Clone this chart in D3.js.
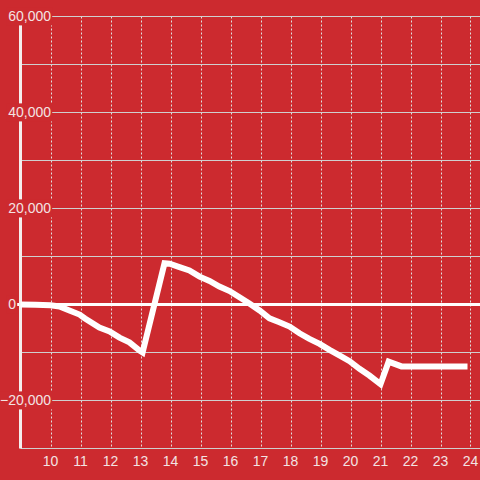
<!DOCTYPE html>
<meta charset="utf-8">
<style>
body { margin: 0; background: #cc2a2f; }
svg { display: block; }
.grid-h line { stroke: #cfcfcf; stroke-width: 1px; }
.grid-v line { stroke: #e0e0e0; stroke-width: 1px; stroke-dasharray: 2,2; }
.tick-label { font: 14px "Liberation Sans", Arial, sans-serif; fill: #f3e3e3; }
.series { fill: none; stroke: #fff; stroke-width: 6px; stroke-linejoin: miter; }
</style>
<svg width="480" height="480"></svg>
<script src="https://cdn.jsdelivr.net/npm/d3@7/dist/d3.min.js"></script>
<script>
// values
var hours = [9, 9.5, 10, 10.3, 10.63, 10.97, 11.15, 11.63, 11.97, 12.3, 12.63, 12.97, 13.07,
             13.8, 13.97, 14.3, 14.63, 14.97, 15.3, 15.63, 15.97, 16.3, 16.63, 16.97,
             17.3, 17.63, 17.97, 18.3, 18.63, 18.97, 19.3, 19.63, 19.97, 20.3, 20.63, 21.0,
             21.27, 21.7, 22, 23, 23.9];
var balance = [0, -50, -150, -400, -1250, -2100, -2900, -4800, -5600, -6900, -7900, -9600, -10000,
               8600, 8500, 7800, 7100, 5800, 4900, 3750, 2800, 1500, 200, -1250,
               -2900, -3700, -4600, -6000, -7150, -8200, -9450, -10600, -11800, -13400, -14800, -16600,
               -11900, -12900, -12900, -12900, -12900];
var xTicks = [10, 11, 12, 13, 14, 15, 16, 17, 18, 19, 20, 21, 22, 23, 24];
var yGrid = [60000, 50000, 40000, 30000, 20000, 10000, -10000, -20000, -30000];
var yLabels = [60000, 40000, 20000, 0, -20000];

var svg = d3.select("svg");

svg.append("rect")
    .attr("width", 480).attr("height", 480)
    .attr("fill", "#cc2a2f");

var x = d3.scaleLinear().domain([9, 24.3]).range([20.5, 479.5]),
    y = d3.scaleLinear().domain([-30000, 60000]).range([448.5, 16.5]);

var fmt = d3.format(",");

// dashed vertical grid
svg.append("g")
    .attr("class", "grid-v")
  .selectAll("line")
  .data(xTicks)
  .enter().append("line")
    .attr("x1", function(d) { return Math.round(x(d)) + 0.5; })
    .attr("x2", function(d) { return Math.round(x(d)) + 0.5; })
    .attr("y1", y(60000))
    .attr("y2", y(-30000));

// horizontal grid
svg.append("g")
    .attr("class", "grid-h")
  .selectAll("line")
  .data(yGrid)
  .enter().append("line")
    .attr("x1", x(9))
    .attr("x2", 480)
    .attr("y1", function(d) { return y(d); })
    .attr("y2", function(d) { return y(d); });

// zero line
svg.append("line")
    .attr("x1", 17).attr("x2", 480)
    .attr("y1", y(0)).attr("y2", y(0))
    .style("stroke", "#fff")
    .style("stroke-width", 3);

// y axis bar
svg.append("line")
    .attr("x1", x(9)).attr("x2", x(9))
    .attr("y1", y(60000)).attr("y2", y(-30000))
    .style("stroke", "#f4eeee")
    .style("stroke-width", 3);

var line = d3.line()
    .x(function(d) { return x(d[0]); })
    .y(function(d) { return y(d[1]); });

svg.append("path")
    .datum(d3.zip(hours, balance))
    .attr("class", "series")
    .attr("d", line);

// y labels with a background box that hides grid and axis
// (the zero label sits left of the axis)
var yl = svg.append("g").selectAll("g")
    .data(yLabels)
  .enter().append("g");

yl.append("text")
    .attr("class", "tick-label")
    .attr("x", function(d) { return d === 0 ? 16 : 51; })
    .attr("y", function(d) { return y(d); })
    .attr("dy", "0.35em")
    .attr("text-anchor", "end")
    .text(function(d) { return fmt(d); });

yl.each(function() {
  var t = d3.select(this).select("text"),
      b = t.node().getBBox();
  d3.select(this).insert("rect", "text")
      .attr("x", b.x - 2)
      .attr("y", b.y - 1)
      .attr("width", b.width + 3)
      .attr("height", b.height + 2)
      .attr("fill", "#cc2a2f");
});

// x labels
svg.append("g").selectAll("text")
    .data(xTicks)
  .enter().append("text")
    .attr("class", "tick-label")
    .attr("x", function(d) { return x(d); })
    .attr("y", 466)
    .attr("text-anchor", "middle")
    .text(function(d) { return d; });
</script>
